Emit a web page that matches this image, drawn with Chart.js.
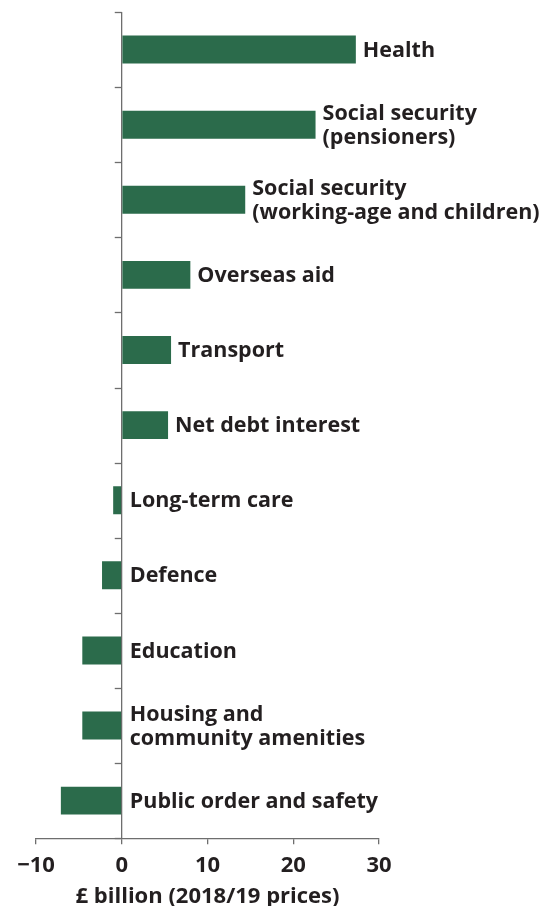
<!DOCTYPE html>
<html>
<head>
<meta charset="utf-8">
<script src="https://cdn.jsdelivr.net/npm/chart.js@4.4.1/dist/chart.umd.min.js"></script>
<style>
html,body{margin:0;padding:0;background:#fff;}
canvas{display:block;}
</style>
</head>
<body>
<canvas id="c" width="554" height="906"></canvas>
<script>
const categories = [
  ["Health"],
  ["Social security", "(pensioners)"],
  ["Social security", "(working-age and children)"],
  ["Overseas aid"],
  ["Transport"],
  ["Net debt interest"],
  ["Long-term care"],
  ["Defence"],
  ["Education"],
  ["Housing and", "community amenities"],
  ["Public order and safety"]
];
const values = [27.3, 22.6, 14.4, 8.0, 5.75, 5.4, -1.0, -2.3, -4.6, -4.6, -7.1];
const xTicks = [-10, 0, 10, 20, 30];
const axisTitle = "£ billion (2018/19 prices)";

const FONT = "'Open Sans', sans-serif";
const TEXT = "#231f20";
const LINE = "#6e6e6e";
const GREEN = "#2b6b4b";

const catTicks = {
  id: 'catTicks',
  afterDatasetsDraw(chart) {
    const ctx = chart.ctx, y = chart.scales.y, x = chart.scales.x;
    const x0 = x.getPixelForValue(0);
    const n = categories.length;
    const step = (y.getPixelForValue(n - 1) - y.getPixelForValue(0)) / (n - 1);
    ctx.save();
    ctx.strokeStyle = LINE;
    ctx.lineWidth = 1.3;
    for (let i = 0; i <= n; i++) {
      const py = Math.round(y.getPixelForValue(0) - step / 2 + i * step) + 0.5;
      ctx.beginPath();
      ctx.moveTo(x0 - 7, py);
      ctx.lineTo(x0, py);
      ctx.stroke();
    }
    ctx.restore();
  }
};

const barLabels = {
  id: 'barLabels',
  afterDatasetsDraw(chart) {
    const ctx = chart.ctx, x = chart.scales.x;
    const x0 = x.getPixelForValue(0);
    const meta = chart.getDatasetMeta(0);
    ctx.save();
    ctx.fillStyle = TEXT;
    ctx.font = "bold 21.5px " + FONT;
    ctx.textBaseline = 'middle';
    ctx.textAlign = 'left';
    meta.data.forEach((bar, i) => {
      const v = values[i];
      const sx = v > 0 ? bar.x + 7 : x0 + 8;
      const lines = categories[i];
      const lh = 24;
      const top = bar.y + 1 - (lines.length - 1) * lh / 2;
      lines.forEach((t, j) => ctx.fillText(t, sx, top + j * lh));
    });
    ctx.restore();
  }
};

new Chart(document.getElementById('c'), {
  type: 'bar',
  data: {
    labels: categories,
    datasets: [{
      data: values,
      backgroundColor: GREEN,
      borderWidth: 0,
      barPercentage: 0.372,
      categoryPercentage: 1
    }]
  },
  options: {
    indexAxis: 'y',
    responsive: false,
    animation: false,
    events: [],
    layout: { padding: { left: 36, right: 175, top: 12, bottom: -6 } },
    plugins: { legend: { display: false }, tooltip: { enabled: false } },
    scales: {
      y: { display: false },
      x: {
        min: -10, max: 30,
        afterBuildTicks(scale) { scale.ticks = xTicks.map(v => ({ value: v })); },
        ticks: {
          color: TEXT,
          font: { family: FONT, size: 22, weight: 'bold' },
          padding: 8,
          maxRotation: 0,
          callback: (v) => String(v).replace('-', '\u2212')
        },
        grid: {
          drawOnChartArea: true,
          color: (c) => (c.tick && c.tick.value === 0) ? LINE : 'rgba(0,0,0,0)',
          tickColor: LINE,
          tickLength: 6,
          lineWidth: 1.3
        },
        border: { display: true, color: LINE, width: 1.3 },
        title: {
          display: true,
          text: axisTitle,
          color: TEXT,
          font: { family: FONT, size: 22, weight: 'bold' },
          padding: { top: -3, bottom: 2 }
        }
      }
    }
  },
  plugins: [catTicks, barLabels]
});
</script>
</body>
</html>
